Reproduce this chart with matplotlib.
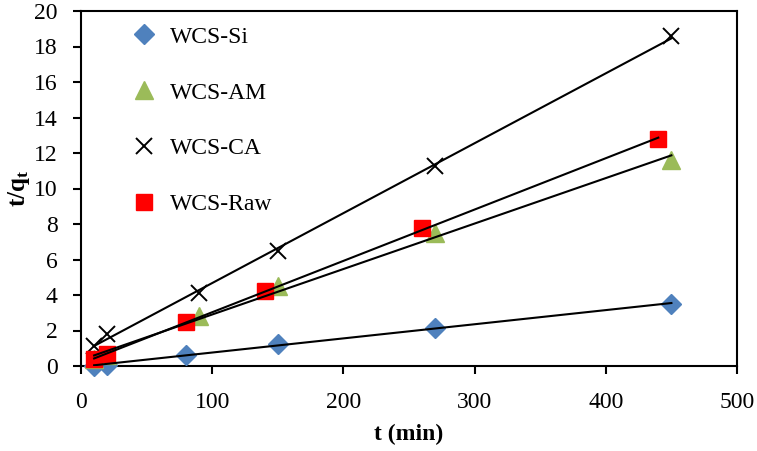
import matplotlib.pyplot as plt
import numpy as np

plt.rcParams['font.family'] = ['Liberation Serif', 'DejaVu Serif']
plt.rcParams['mathtext.fontset'] = 'custom'
plt.rcParams['mathtext.rm'] = 'Liberation Serif'
plt.rcParams['mathtext.bf'] = 'Liberation Serif:bold'

# t (min) and t/qt for each sample
t_si = [10, 20, 80, 150, 270, 450]
q_si = [0.02, 0.07, 0.63, 1.22, 2.12, 3.52]

t_am = [10, 20, 90, 150, 270, 450]
q_am = [0.4, 0.6, 2.8, 4.5, 7.5, 11.6]

t_ca = [10, 20, 90, 150, 270, 450]
q_ca = [1.15, 1.8, 4.1, 6.5, 11.25, 18.6]

t_raw = [10, 20, 80, 140, 260, 440]
q_raw = [0.4, 0.65, 2.5, 4.2, 7.75, 12.8]

labels = ['WCS-Si', 'WCS-AM', 'WCS-CA', 'WCS-Raw']

fig = plt.figure(figsize=(7.57, 4.51), dpi=100)
ax = fig.add_axes([81 / 757, (451 - 366) / 451, 656 / 757, 355 / 451])

series = [
    (t_si, q_si, dict(marker='D', color='#4F81BD', ms=10, ls='none')),
    (t_am, q_am, dict(marker='^', color='#9BBB59', ms=13, ls='none')),
    (t_ca, q_ca, dict(marker='x', color='black', ms=12, mew=1.4, ls='none')),
    (t_raw, q_raw, dict(marker='s', color='#FF0000', ms=12, ls='none')),
]

for (t, q, style), lab in zip(series, labels):
    ax.plot(t, q, label=lab, clip_on=False, zorder=3, **style)
    # linear fit (pseudo-second-order)
    k, b = np.polyfit(t, q, 1)
    tt = np.array([t[0], t[-1]])
    ax.plot(tt, k * tt + b, color='black', lw=1.5, zorder=4)

ax.set_xlim(0, 500)
ax.set_ylim(0, 20)
ax.set_xticks(np.arange(0, 501, 100))
ax.set_yticks(np.arange(0, 21, 2))
ax.tick_params(direction='out', labelsize=17, width=1.5, length=6)
ax.tick_params(axis='x', pad=12.5)
ax.tick_params(axis='y', pad=11)
for s in ax.spines.values():
    s.set_linewidth(1.5)

ax.set_xlabel('t (min)', fontsize=17, fontweight='bold', labelpad=8)
ax.set_ylabel(r'$\mathbf{t/q_t}$', fontsize=18, labelpad=1)

ax.legend(loc='upper left', bbox_to_anchor=(0.045, 1.017), frameon=False,
          fontsize=17, labelspacing=1.45, handlelength=1.0, handletextpad=0.6)

fig.savefig('out.png', dpi=100)
